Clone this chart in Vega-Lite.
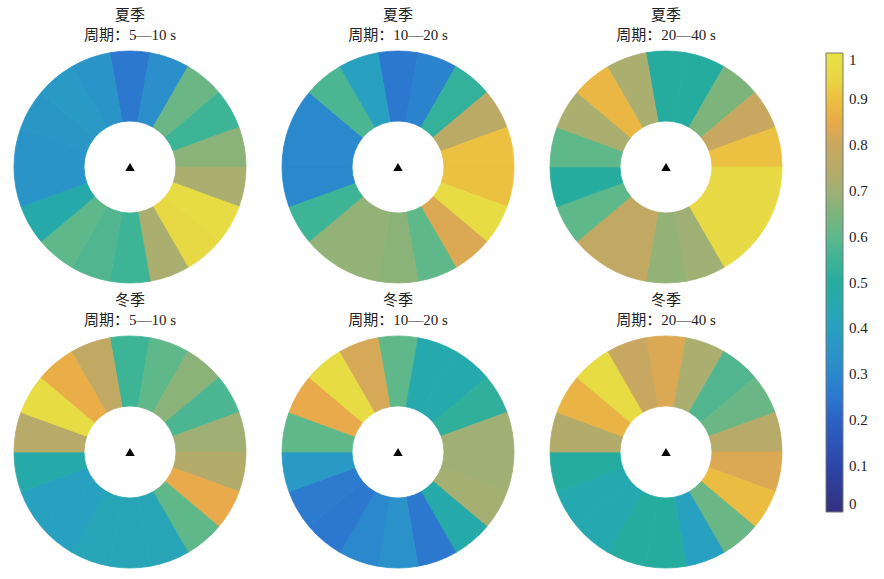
{
  "$schema": "https://vega.github.io/schema/vega-lite/v6.json",
  "background": "white",
  "padding": {"left": 10, "top": 8, "right": 5, "bottom": 5},
  "data": {"values": [
    {"p": "夏季|周期：5—10 s", "d": 0, "v": 0.25}, {"p": "夏季|周期：5—10 s", "d": 20, "v": 0.33}, {"p": "夏季|周期：5—10 s", "d": 40, "v": 0.62}, {"p": "夏季|周期：5—10 s", "d": 60, "v": 0.55}, {"p": "夏季|周期：5—10 s", "d": 80, "v": 0.67}, {"p": "夏季|周期：5—10 s", "d": 100, "v": 0.72}, {"p": "夏季|周期：5—10 s", "d": 120, "v": 0.97}, {"p": "夏季|周期：5—10 s", "d": 140, "v": 0.95}, {"p": "夏季|周期：5—10 s", "d": 160, "v": 0.72}, {"p": "夏季|周期：5—10 s", "d": 180, "v": 0.55}, {"p": "夏季|周期：5—10 s", "d": 200, "v": 0.58}, {"p": "夏季|周期：5—10 s", "d": 220, "v": 0.6}, {"p": "夏季|周期：5—10 s", "d": 240, "v": 0.47}, {"p": "夏季|周期：5—10 s", "d": 260, "v": 0.35}, {"p": "夏季|周期：5—10 s", "d": 280, "v": 0.35}, {"p": "夏季|周期：5—10 s", "d": 300, "v": 0.36}, {"p": "夏季|周期：5—10 s", "d": 320, "v": 0.37}, {"p": "夏季|周期：5—10 s", "d": 340, "v": 0.35},
    {"p": "夏季|周期：10—20 s", "d": 0, "v": 0.25}, {"p": "夏季|周期：10—20 s", "d": 20, "v": 0.28}, {"p": "夏季|周期：10—20 s", "d": 40, "v": 0.53}, {"p": "夏季|周期：10—20 s", "d": 60, "v": 0.76}, {"p": "夏季|周期：10—20 s", "d": 80, "v": 0.9}, {"p": "夏季|周期：10—20 s", "d": 100, "v": 0.9}, {"p": "夏季|周期：10—20 s", "d": 120, "v": 0.97}, {"p": "夏季|周期：10—20 s", "d": 140, "v": 0.83}, {"p": "夏季|周期：10—20 s", "d": 160, "v": 0.6}, {"p": "夏季|周期：10—20 s", "d": 180, "v": 0.67}, {"p": "夏季|周期：10—20 s", "d": 200, "v": 0.68}, {"p": "夏季|周期：10—20 s", "d": 220, "v": 0.68}, {"p": "夏季|周期：10—20 s", "d": 240, "v": 0.55}, {"p": "夏季|周期：10—20 s", "d": 260, "v": 0.3}, {"p": "夏季|周期：10—20 s", "d": 280, "v": 0.3}, {"p": "夏季|周期：10—20 s", "d": 300, "v": 0.3}, {"p": "夏季|周期：10—20 s", "d": 320, "v": 0.57}, {"p": "夏季|周期：10—20 s", "d": 340, "v": 0.4},
    {"p": "夏季|周期：20—40 s", "d": 0, "v": 0.5}, {"p": "夏季|周期：20—40 s", "d": 20, "v": 0.5}, {"p": "夏季|周期：20—40 s", "d": 40, "v": 0.65}, {"p": "夏季|周期：20—40 s", "d": 60, "v": 0.8}, {"p": "夏季|周期：20—40 s", "d": 80, "v": 0.9}, {"p": "夏季|周期：20—40 s", "d": 100, "v": 0.96}, {"p": "夏季|周期：20—40 s", "d": 120, "v": 0.96}, {"p": "夏季|周期：20—40 s", "d": 140, "v": 0.96}, {"p": "夏季|周期：20—40 s", "d": 160, "v": 0.7}, {"p": "夏季|周期：20—40 s", "d": 180, "v": 0.68}, {"p": "夏季|周期：20—40 s", "d": 200, "v": 0.78}, {"p": "夏季|周期：20—40 s", "d": 220, "v": 0.78}, {"p": "夏季|周期：20—40 s", "d": 240, "v": 0.6}, {"p": "夏季|周期：20—40 s", "d": 260, "v": 0.5}, {"p": "夏季|周期：20—40 s", "d": 280, "v": 0.6}, {"p": "夏季|周期：20—40 s", "d": 300, "v": 0.72}, {"p": "夏季|周期：20—40 s", "d": 320, "v": 0.88}, {"p": "夏季|周期：20—40 s", "d": 340, "v": 0.72},
    {"p": "冬季|周期：5—10 s", "d": 0, "v": 0.55}, {"p": "冬季|周期：5—10 s", "d": 20, "v": 0.6}, {"p": "冬季|周期：5—10 s", "d": 40, "v": 0.67}, {"p": "冬季|周期：5—10 s", "d": 60, "v": 0.57}, {"p": "冬季|周期：5—10 s", "d": 80, "v": 0.7}, {"p": "冬季|周期：5—10 s", "d": 100, "v": 0.74}, {"p": "冬季|周期：5—10 s", "d": 120, "v": 0.85}, {"p": "冬季|周期：5—10 s", "d": 140, "v": 0.6}, {"p": "冬季|周期：5—10 s", "d": 160, "v": 0.43}, {"p": "冬季|周期：5—10 s", "d": 180, "v": 0.43}, {"p": "冬季|周期：5—10 s", "d": 200, "v": 0.43}, {"p": "冬季|周期：5—10 s", "d": 220, "v": 0.4}, {"p": "冬季|周期：5—10 s", "d": 240, "v": 0.4}, {"p": "冬季|周期：5—10 s", "d": 260, "v": 0.47}, {"p": "冬季|周期：5—10 s", "d": 280, "v": 0.75}, {"p": "冬季|周期：5—10 s", "d": 300, "v": 0.97}, {"p": "冬季|周期：5—10 s", "d": 320, "v": 0.86}, {"p": "冬季|周期：5—10 s", "d": 340, "v": 0.78},
    {"p": "冬季|周期：10—20 s", "d": 0, "v": 0.6}, {"p": "冬季|周期：10—20 s", "d": 20, "v": 0.46}, {"p": "冬季|周期：10—20 s", "d": 40, "v": 0.46}, {"p": "冬季|周期：10—20 s", "d": 60, "v": 0.52}, {"p": "冬季|周期：10—20 s", "d": 80, "v": 0.7}, {"p": "冬季|周期：10—20 s", "d": 100, "v": 0.7}, {"p": "冬季|周期：10—20 s", "d": 120, "v": 0.71}, {"p": "冬季|周期：10—20 s", "d": 140, "v": 0.47}, {"p": "冬季|周期：10—20 s", "d": 160, "v": 0.25}, {"p": "冬季|周期：10—20 s", "d": 180, "v": 0.34}, {"p": "冬季|周期：10—20 s", "d": 200, "v": 0.3}, {"p": "冬季|周期：10—20 s", "d": 220, "v": 0.25}, {"p": "冬季|周期：10—20 s", "d": 240, "v": 0.26}, {"p": "冬季|周期：10—20 s", "d": 260, "v": 0.37}, {"p": "冬季|周期：10—20 s", "d": 280, "v": 0.6}, {"p": "冬季|周期：10—20 s", "d": 300, "v": 0.85}, {"p": "冬季|周期：10—20 s", "d": 320, "v": 0.97}, {"p": "冬季|周期：10—20 s", "d": 340, "v": 0.82},
    {"p": "冬季|周期：20—40 s", "d": 0, "v": 0.83}, {"p": "冬季|周期：20—40 s", "d": 20, "v": 0.72}, {"p": "冬季|周期：20—40 s", "d": 40, "v": 0.58}, {"p": "冬季|周期：20—40 s", "d": 60, "v": 0.62}, {"p": "冬季|周期：20—40 s", "d": 80, "v": 0.75}, {"p": "冬季|周期：20—40 s", "d": 100, "v": 0.83}, {"p": "冬季|周期：20—40 s", "d": 120, "v": 0.89}, {"p": "冬季|周期：20—40 s", "d": 140, "v": 0.62}, {"p": "冬季|周期：20—40 s", "d": 160, "v": 0.4}, {"p": "冬季|周期：20—40 s", "d": 180, "v": 0.5}, {"p": "冬季|周期：20—40 s", "d": 200, "v": 0.5}, {"p": "冬季|周期：20—40 s", "d": 220, "v": 0.45}, {"p": "冬季|周期：20—40 s", "d": 240, "v": 0.45}, {"p": "冬季|周期：20—40 s", "d": 260, "v": 0.5}, {"p": "冬季|周期：20—40 s", "d": 280, "v": 0.74}, {"p": "冬季|周期：20—40 s", "d": 300, "v": 0.87}, {"p": "冬季|周期：20—40 s", "d": 320, "v": 0.97}, {"p": "冬季|周期：20—40 s", "d": 340, "v": 0.8}
  ]},
  "facet": {
    "field": "p",
    "type": "nominal",
    "sort": ["夏季|周期：5—10 s", "夏季|周期：10—20 s", "夏季|周期：20—40 s", "冬季|周期：5—10 s", "冬季|周期：10—20 s", "冬季|周期：20—40 s"],
    "header": {
      "title": null,
      "labelExpr": "split(datum.label, '|')",
      "labelFont": "Liberation Serif, Noto Sans CJK SC",
      "labelFontSize": 15,
      "labelLineHeight": 20,
      "labelColor": "#222222",
      "labelPadding": 6
    }
  },
  "columns": 3,
  "spacing": {"column": 28, "row": 8},
  "spec": {
    "width": 240,
    "height": 236,
    "layer": [
      {
        "mark": {"type": "arc", "innerRadius": 46, "outerRadius": 116, "strokeWidth": 0.8, "stroke": {"expr": "scale('color', datum.v)"}},
        "encoding": {
          "theta": {"aggregate": "count", "type": "quantitative", "stack": true, "scale": {"domain": [0, 18], "range": [-0.17453, 6.10865]}},
          "order": {"field": "d", "type": "quantitative"},
          "color": {
            "field": "v", "type": "quantitative",
            "scale": {
              "domain": [0, 0.1, 0.2, 0.25, 0.3, 0.35, 0.4, 0.45, 0.5, 0.55, 0.6, 0.65, 0.7, 0.75, 0.8, 0.85, 0.9, 0.95, 1],
              "range": ["#33307f", "#2c46a8", "#2b62c4", "#2c78cf", "#2a88cc", "#2a94c8", "#28a0c0", "#26a8b0", "#26ac9f", "#3eb496", "#5eb88a", "#7db47c", "#a0b074", "#b8aa68", "#c8a860", "#e8aa4a", "#ecc040", "#e8d844", "#e6e342"],
              "interpolate": "rgb"
            },
            "legend": {
              "type": "gradient",
              "orient": "none", "legendX": 816, "legendY": 4, "direction": "vertical",
              "gradientLength": 459, "gradientThickness": 17,
              "values": [0, 0.1, 0.2, 0.3, 0.4, 0.5, 0.6, 0.7, 0.8, 0.9, 1],
              "format": ".1~f", "title": null,
              "labelFont": "Liberation Serif", "labelFontSize": 15, "labelColor": "#222222", "labelOffset": 6,
              "gradientStrokeColor": "#777777", "gradientStrokeWidth": 1
            }
          }
        }
      },
      {
        "transform": [{"filter": "datum.d == 0"}],
        "mark": {"type": "point", "shape": "triangle-up", "filled": true, "color": "black", "opacity": 1, "size": 90},
        "encoding": {}
      }
    ]
  },
  "config": {"view": {"stroke": null}}
}
